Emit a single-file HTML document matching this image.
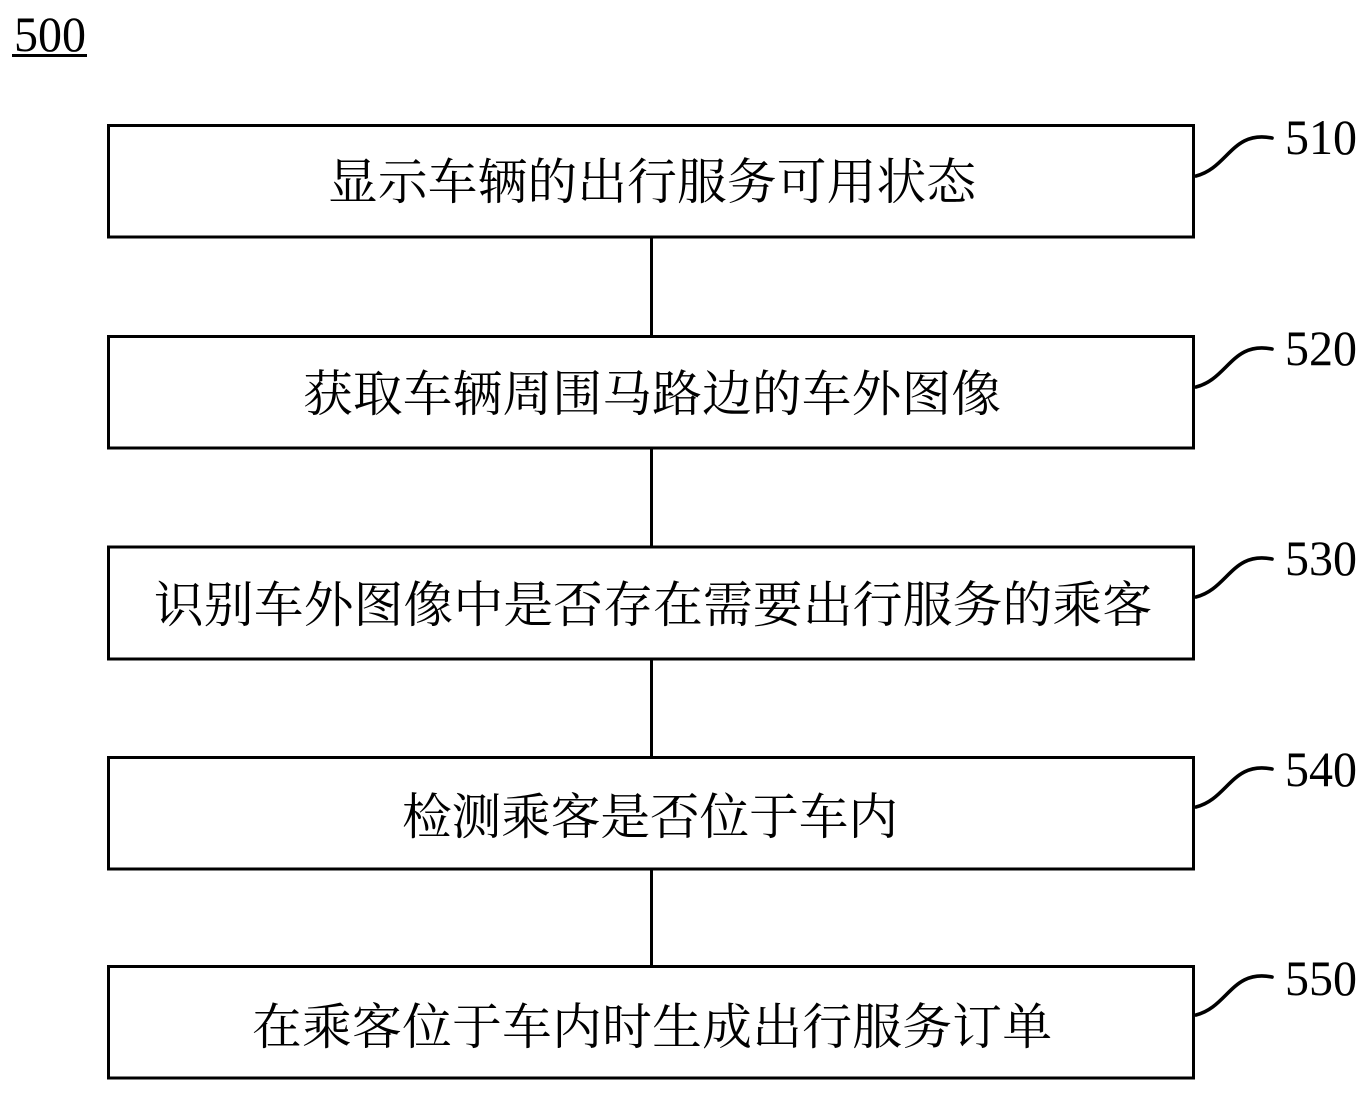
<!DOCTYPE html>
<html lang="zh">
<head>
<meta charset="utf-8">
<style>
html,body{margin:0;padding:0;background:#fff;width:1370px;height:1093px;overflow:hidden}
svg{display:block}
.c{font-family:"Liberation Serif","Noto Serif CJK SC",serif;font-size:49.7px;fill:#000}
.n{font-family:"Liberation Serif",serif;font-size:50px;fill:#000}
.b{fill:#fff;stroke:#000;stroke-width:3}
.l{stroke:#000;stroke-width:3;fill:none}
.w{stroke:#000;stroke-width:3.6;fill:none;stroke-linecap:round}
</style>
</head>
<body>
<svg width="1370" height="1093" viewBox="0 0 1370 1093" xmlns="http://www.w3.org/2000/svg">
<rect width="1370" height="1093" fill="#fff"/>
<text class="n" x="14" y="51" textLength="72" lengthAdjust="spacingAndGlyphs">500</text>
<rect x="12" y="54" width="75" height="3" fill="#000"/>

<line class="l" x1="651.5" y1="237" x2="651.5" y2="336"/>
<line class="l" x1="651.5" y1="448" x2="651.5" y2="547"/>
<line class="l" x1="651.5" y1="659" x2="651.5" y2="757"/>
<line class="l" x1="651.5" y1="869" x2="651.5" y2="966"/>

<rect class="b" x="108.5" y="125.5" width="1085" height="111.5"/>
<rect class="b" x="108.5" y="336.5" width="1085" height="111.5"/>
<rect class="b" x="108.5" y="547" width="1085" height="112"/>
<rect class="b" x="108.5" y="757.5" width="1085" height="111.5"/>
<rect class="b" x="108.5" y="966.5" width="1085" height="111.5"/>

<text class="c" x="328" y="199" textLength="648">显示车辆的出行服务可用状态</text>
<text class="c" x="303" y="411" textLength="698">获取车辆周围马路边的车外图像</text>
<text class="c" x="154" y="622" textLength="998">识别车外图像中是否存在需要出行服务的乘客</text>
<text class="c" x="402" y="834" textLength="496">检测乘客是否位于车内</text>
<text class="c" x="252" y="1044" textLength="800">在乘客位于车内时生成出行服务订单</text>

<path class="w" d="M1196 176 C1228 168,1232 130,1272 138"/>
<path class="w" d="M1196 387 C1228 379,1232 341,1272 349"/>
<path class="w" d="M1196 597 C1228 589,1232 551,1272 559"/>
<path class="w" d="M1196 807 C1228 799,1232 761,1272 769"/>
<path class="w" d="M1196 1015 C1228 1007,1232 969,1272 977"/>

<text class="n" x="1285" y="154" textLength="72" lengthAdjust="spacingAndGlyphs">510</text>
<text class="n" x="1285" y="365" textLength="72" lengthAdjust="spacingAndGlyphs">520</text>
<text class="n" x="1285" y="575" textLength="72" lengthAdjust="spacingAndGlyphs">530</text>
<text class="n" x="1285" y="786" textLength="72" lengthAdjust="spacingAndGlyphs">540</text>
<text class="n" x="1285" y="995" textLength="72" lengthAdjust="spacingAndGlyphs">550</text>
</svg>
</body>
</html>
